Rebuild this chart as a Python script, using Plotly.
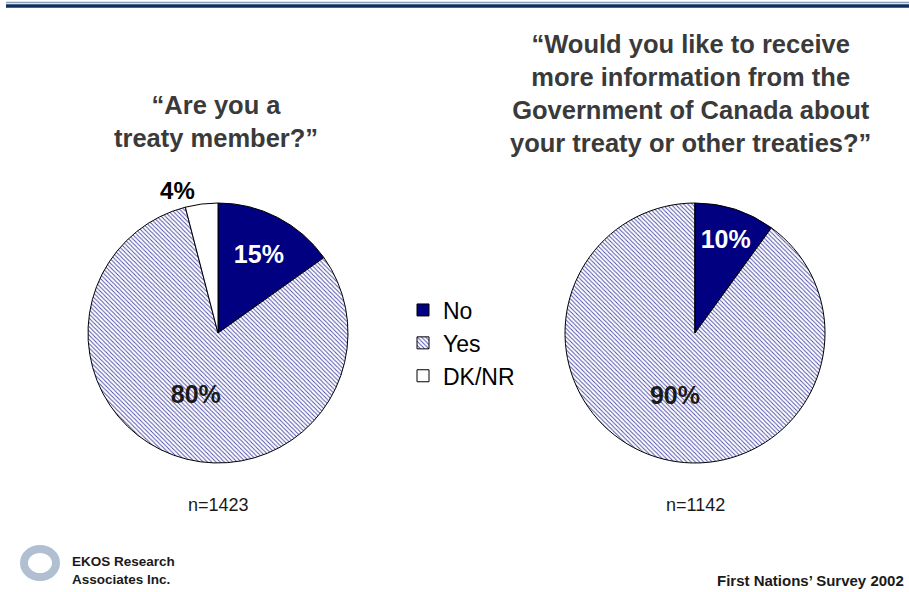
import plotly.graph_objects as go

labels = ["No", "Yes", "DK/NR"]
treaty_member = [15, 80, 4]
more_info = [10, 90, 0]
n_left = "n=1423"
n_right = "n=1142"
title_left = "“Are you a<br>treaty member?”"
title_right = "“Would you like to receive<br>more information from the<br>Government of Canada about<br>your treaty or other treaties?”"

NAVY = "#000080"
slice_colors = [NAVY, "white", "white"]
patterns = dict(shape=["", "\\", ""], fgcolor="#4848a8", bgcolor="white", size=3, solidity=0.3)
FONT = "Liberation Sans, Arial, sans-serif"

W, H = 909, 592
def dom(cx, cy, r):
    return dict(x=[(cx - r) / W, (cx + r) / W], y=[1 - (cy + r) / H, 1 - (cy - r) / H])

fig = go.Figure()
fig.add_trace(go.Pie(
    labels=labels, values=treaty_member, sort=False, direction="clockwise", rotation=0,
    marker=dict(colors=slice_colors, line=dict(color="black", width=1), pattern=patterns),
    texttemplate="%{value}%", textposition=["inside", "inside", "outside"],
    insidetextorientation="horizontal",
    textfont=dict(family=FONT, size=25, weight="bold", color=["white", "#1a1a1a", "black"]),
    outsidetextfont=dict(family=FONT, size=24, weight="bold", color="black"),
    domain=dom(218, 333, 130), hoverinfo="label+percent", showlegend=True,
))
fig.add_trace(go.Pie(
    labels=labels, values=more_info, sort=False, direction="clockwise", rotation=0,
    marker=dict(colors=slice_colors, line=dict(color="black", width=1), pattern=patterns),
    texttemplate=["%{value}%", "%{value}%", ""], textposition="inside",
    insidetextorientation="horizontal",
    textfont=dict(family=FONT, size=25, weight="bold", color=["white", "#1a1a1a", "black"]),
    domain=dom(695, 333, 130), hoverinfo="label+percent", showlegend=True,
))

anns = [
    dict(text=title_left, x=216 / W, y=1 - 121 / H, font=dict(size=25.5, color="#3a3a3a", family=FONT, weight="bold")),
    dict(text=title_right, x=690 / W, y=1 - 93 / H, font=dict(size=25.5, color="#3a3a3a", family=FONT, weight="bold")),
    dict(text=n_left, x=218 / W, y=1 - 505 / H, font=dict(size=18, color="#1a1a1a", family=FONT)),
    dict(text=n_right, x=695 / W, y=1 - 505 / H, font=dict(size=18, color="#1a1a1a", family=FONT)),
    dict(text="EKOS Research<br>Associates Inc.", x=70 / W, y=1 - 570 / H, xanchor="left",
         align="left", font=dict(size=13.5, color="#1a1a1a", family=FONT, weight="bold")),
    dict(text="First Nations’ Survey 2002", x=906 / W, y=1 - 580 / H, xanchor="right",
         font=dict(size=15, color="#1a1a1a", family=FONT, weight="bold")),
]
for a in anns:
    a.setdefault("xanchor", "center")
    fig.add_annotation(xref="paper", yref="paper", yanchor="middle", showarrow=False, **a)

shapes = [
    dict(type="line", x0=6 / W, x1=1, y0=1 - 2.5 / H, y1=1 - 2.5 / H, line=dict(color="#8a9ab4", width=1.5)),
    dict(type="line", x0=6 / W, x1=1, y0=1 - 6 / H, y1=1 - 6 / H, line=dict(color="#0b3261", width=3.5)),
    dict(type="circle", x0=24 / W, x1=56 / W, y0=1 - 577 / H, y1=1 - 549 / H,
         line=dict(color="#b0bfd2", width=8), fillcolor="rgba(0,0,0,0)"),
]
for s in shapes:
    fig.add_shape(xref="paper", yref="paper", **s)

fig.update_layout(
    width=W, height=H, margin=dict(l=0, r=0, t=0, b=0),
    paper_bgcolor="white", plot_bgcolor="white",
    legend=dict(x=403 / W, y=1 - 343 / H, xanchor="left", yanchor="middle",
                font=dict(size=23, family=FONT, color="black"),
                itemwidth=30, tracegroupgap=0, bgcolor="rgba(0,0,0,0)"),
)
fig.write_html("out.html")
